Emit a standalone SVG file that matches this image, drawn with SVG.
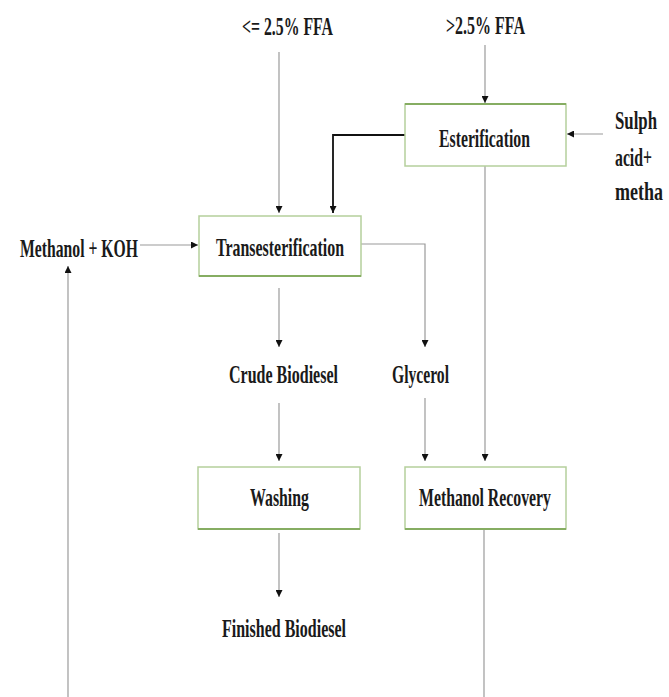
<svg xmlns="http://www.w3.org/2000/svg" width="669" height="697" viewBox="0 0 669 697">
<defs>
<marker id="arr" markerUnits="userSpaceOnUse" markerWidth="7" markerHeight="7" refX="7" refY="3.5" orient="auto">
<path d="M0,0 L7,3.5 L0,7 z" fill="#111"/>
</marker>
<style>
.t{font-family:"Liberation Serif","Times New Roman",serif;font-weight:bold;font-size:26px;fill:#1a1a1a;text-anchor:middle}
.ts{font-family:"Liberation Serif","Times New Roman",serif;font-weight:bold;font-size:26px;fill:#1a1a1a}
.box{fill:#ffffff;stroke:#b5cf9c;stroke-width:1.5}
.boxb{stroke:#86ad62;stroke-width:2}
.c{fill:none;stroke:#9a9a9a;stroke-width:1.2}
.ck{fill:none;stroke:#111;stroke-width:1.8}
</style>
</defs>
<rect width="669" height="697" fill="#ffffff"/>
<g id="connectors">
<line class="c" x1="279" y1="52" x2="279" y2="213" marker-end="url(#arr)"/>
<line class="c" x1="485" y1="45" x2="485" y2="103" marker-end="url(#arr)"/>
<polyline class="ck" points="405,135 333,135 333,213" marker-end="url(#arr)"/>
<line class="c" x1="603" y1="134" x2="567" y2="134" marker-end="url(#arr)"/>
<line class="c" x1="140" y1="245" x2="198" y2="245" marker-end="url(#arr)"/>
<polyline class="c" points="361,244 425,244 425,347" marker-end="url(#arr)"/>
<line class="c" x1="279" y1="288" x2="279" y2="347" marker-end="url(#arr)"/>
<line class="c" x1="279" y1="403" x2="279" y2="461" marker-end="url(#arr)"/>
<line class="c" x1="425" y1="398" x2="425" y2="461" marker-end="url(#arr)"/>
<line class="c" x1="485" y1="166" x2="485" y2="461" marker-end="url(#arr)"/>
<line class="c" x1="279" y1="533" x2="279" y2="597" marker-end="url(#arr)"/>
<line class="c" x1="484" y1="529" x2="484" y2="697"/>
<line class="c" x1="68" y1="697" x2="68" y2="266" marker-end="url(#arr)"/>
</g>
<g id="label-low-ffa"><text class="t" x="287.5" y="35" textLength="91" lengthAdjust="spacingAndGlyphs">&lt;= 2.5% FFA</text></g>
<g id="label-high-ffa"><text class="t" x="485.5" y="34" textLength="79" lengthAdjust="spacingAndGlyphs">&gt;2.5% FFA</text></g>
<g id="esterification">
<rect class="box" x="405" y="104" width="161" height="62"/>
<line class="boxb" x1="405" y1="104" x2="566" y2="104"/>
<text class="t" x="484.5" y="147" textLength="91" lengthAdjust="spacingAndGlyphs">Esterification</text>
</g>
<g id="sulphuric-acid">
<text class="ts" x="615" y="129" textLength="42" lengthAdjust="spacingAndGlyphs">Sulph</text>
<text class="ts" x="615" y="166" textLength="37" lengthAdjust="spacingAndGlyphs">acid+</text>
<text class="ts" x="615" y="200" textLength="48" lengthAdjust="spacingAndGlyphs">metha</text>
</g>
<g id="methanol-koh"><text class="t" x="79" y="257" textLength="118" lengthAdjust="spacingAndGlyphs">Methanol + KOH</text></g>
<g id="transesterification">
<rect class="box" x="199" y="216" width="162" height="60"/>
<line class="boxb" x1="199" y1="276" x2="361" y2="276"/>
<text class="t" x="280" y="256" textLength="128" lengthAdjust="spacingAndGlyphs">Transesterification</text>
</g>
<g id="crude-biodiesel"><text class="t" x="283.5" y="383" textLength="109" lengthAdjust="spacingAndGlyphs">Crude Biodiesel</text></g>
<g id="glycerol"><text class="t" x="420.5" y="383" textLength="57" lengthAdjust="spacingAndGlyphs">Glycerol</text></g>
<g id="washing">
<rect class="box" x="198" y="467" width="162" height="62"/>
<line class="boxb" x1="198" y1="529" x2="360" y2="529"/>
<text class="t" x="279.5" y="506" textLength="59" lengthAdjust="spacingAndGlyphs">Washing</text>
</g>
<g id="methanol-recovery">
<rect class="box" x="405" y="467" width="161" height="62"/>
<line class="boxb" x1="405" y1="529" x2="566" y2="529"/>
<text class="t" x="485" y="506" textLength="132" lengthAdjust="spacingAndGlyphs">Methanol Recovery</text>
</g>
<g id="finished-biodiesel"><text class="t" x="284" y="637" textLength="124" lengthAdjust="spacingAndGlyphs">Finished Biodiesel</text></g>
</svg>
